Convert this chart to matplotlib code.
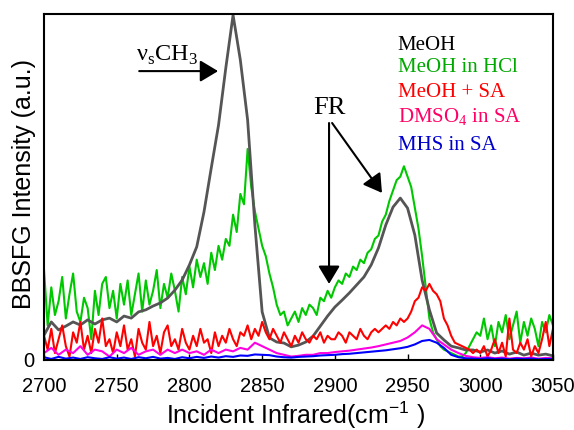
import matplotlib
matplotlib.use("Agg")
import matplotlib.pyplot as plt
import numpy as np

# ---- data (intensity in arbitrary units, 0-100) ----
# gray, magenta and blue at 5 cm-1 steps, the noisy green and red at 2.5 cm-1
wn_5 = np.arange(2700, 3050.1, 5.0)
wn_25 = np.arange(2700, 3050.1, 2.5)

meoh = [7.2, 11.0, 8.7, 9.8, 11.0, 10.1, 11.6, 10.4, 11.6, 12.1,
        11.0, 12.7, 12.1, 13.9, 14.5, 15.6, 16.5, 17.9, 20.2, 23.1,
        27.5, 32.7, 42.8, 55.5, 67.9, 84.4, 99.7, 86.7, 69.4, 39.0,
        13.9, 6.4, 5.2, 4.9, 3.8, 4.3, 5.2, 6.9, 9.8, 12.7,
        15.3, 17.3, 19.4, 21.7, 24.0, 27.5, 32.4, 39.0, 44.2, 46.8,
        43.9, 36.1, 23.1, 14.5, 7.8, 5.8, 4.0, 3.5, 2.9, 2.9,
        2.3, 2.9, 2.0, 2.6, 1.7, 2.3, 1.4, 2.0, 1.4, 1.7,
        1.2]

meoh_hcl = [26, 10, 21, 13, 17, 24, 12, 19, 25, 14, 11, 18, 15, 6, 20, 13, 22, 24, 15, 20,
            12, 22, 16, 23, 13, 19, 25, 14, 23, 16, 20, 26, 15, 22, 18, 25, 20, 14, 24, 19,
            27, 21, 29, 24, 28, 22, 31, 26, 33, 29, 35, 33, 42, 37, 48, 45, 61, 50, 43, 38,
            33, 30, 25, 21, 16, 13, 14, 10, 12, 14, 11, 15, 13, 16, 15, 13, 18, 17, 20, 18,
            21, 23, 22, 25, 24, 27, 26, 29, 28, 31, 32, 35, 36, 40, 42, 46, 49, 52, 53, 56,
            53, 50, 44, 38, 30, 21, 12, 8, 6, 4, 3, 2.5, 2, 1.5, 1, 1, 2, 4, 6, 8,
            7, 12, 6, 10, 4, 11, 8, 13, 6, 10, 14, 5, 11, 7, 12, 9, 4, 11, 8, 13,
            10]

meoh_sa = [7, 3, 9, 2, 6, 10, 4, 1, 8, 5, 11, 3, 7, 2, 9, 5, 12, 4, 6, 2,
           8, 4, 10, 3, 6, 1, 9, 5, 3, 11, 4, 7, 2, 8, 10, 4, 6, 3, 9, 5,
           3, 7, 4, 9, 5, 6, 2, 8, 4, 7, 5, 9, 6, 4, 8, 7, 10, 6, 9, 7,
           11, 8, 6, 9, 7, 5, 8, 6, 4, 7, 5, 8, 6, 5, 7, 6, 8, 5, 7, 6,
           6, 8, 7, 5, 8, 7, 6, 9, 7, 6, 8, 9, 8, 9, 10, 9, 11, 10, 12, 11,
           12, 14, 17, 18, 21, 20, 22, 20, 19, 17, 12, 10, 7, 5, 4.5, 4, 3.5, 3, 2, 3,
           2, 4, 1, 3, 6, 2, 5, 1, 12, 3, 2, 5, 3, 6, 1, 4, 2, 6, 11, 4,
           9]

dmso4_sa = [2, 3.5, 1.5, 3, 2, 4, 1.5, 3, 2.5, 1,
            3, 2, 3.5, 1.5, 2.5, 3, 1.5, 3, 2, 3,
            2, 2.5, 1.5, 3, 2, 3, 2.5, 3.5, 3, 5,
            4, 3, 2, 1.5, 1, 1.2, 1.5, 1.5, 2, 2,
            2.3, 2.5, 2.7, 3, 3.3, 3.6, 4, 4.5, 5, 5.5,
            6.5, 8, 10, 9, 6, 4.5, 3, 2, 1.2, 0.8,
            0.6, 0.8, 0.5, 0.7, 0.4, 0.6, 0.5, 0.7, 0.4, 0.6,
            0.5]

mhs_sa = [0.8, 0.3, 0.9, 0.4, 0.7, 0.3, 0.8, 0.5, 0.3, 0.8,
          0.4, 0.7, 0.3, 0.8, 0.5, 0.9, 0.4, 0.6, 0.3, 0.8,
          0.5, 0.9, 0.6, 1.0, 0.7, 1.1, 0.9, 1.3, 1.2, 1.6,
          1.5, 1.4, 1.0, 0.8, 0.7, 0.9, 1.0, 1.1, 1.3, 1.4,
          1.5, 1.7, 1.8, 2.0, 2.2, 2.4, 2.6, 2.8, 3.1, 3.4,
          3.8, 4.5, 5.5, 5.8, 5.0, 3.5, 1.5, 0.8, 0.5, 0.4,
          0.3, 0.5, 0.3, 0.4, 0.2, 0.4, 0.3, 0.4, 0.2, 0.3,
          0.3]

labels = ["MeOH", "MeOH in HCl", "MeOH + SA",
          "DMSO$_\\mathregular{4}$ in SA", "MHS in SA"]
line_colors = ["#555555", "#00c800", "#ff0000", "#ff00e0", "#0000ff"]
text_colors = ["#000000", "#00a800", "#ff0000", "#ff0066", "#0000cc"]
xticks = [2700, 2750, 2800, 2850, 2900, 2950, 3000, 3050]

plt.rcParams['font.family'] = ['Liberation Sans', 'DejaVu Sans']

fig = plt.figure(figsize=(5.74, 4.30), dpi=100)
ax = fig.add_axes([0.0767, 0.1628, 0.8867, 0.8046])

series = [(wn_5, meoh), (wn_25, meoh_hcl), (wn_25, meoh_sa),
          (wn_5, dmso4_sa), (wn_5, mhs_sa)]
zs = [2.1, 2.0, 2.2, 2.3, 2.4]
lws = [2.0, 1.5, 1.5, 1.5, 1.5]
for (x, y), c, z, w in zip(series, line_colors, zs, lws):
    ax.plot(x, y, color=c, lw=w, zorder=z)

ax.set_xlim(2700, 3050)
ax.set_ylim(0, 100)
ax.set_xticks(xticks)
ax.set_yticks([0])
ax.tick_params(axis='x', direction='in', length=4, width=1, labelsize=14.5, pad=12)
ax.tick_params(axis='y', length=0, labelsize=14.5, pad=7)
for s in ax.spines.values():
    s.set_linewidth(1.5)

# axis titles placed where the reference has them
fig.text(296 / 574, 1 - 415 / 430, "Incident Infrared(cm$^{\\mathregular{-1}}$ )",
         fontsize=18, ha='center', va='center')
fig.text(24 / 574, 1 - 184 / 430, "BBSFG Intensity (a.u.)", fontsize=18,
         rotation=90, ha='center', va='center')

# legend as coloured text
ys = [0.910, 0.844, 0.772, 0.702, 0.621]
for lab, c, yy in zip(labels, text_colors, ys):
    ax.text(0.695, yy, lab, transform=ax.transAxes, color=c, fontsize=15,
            family='Liberation Serif', va='center', ha='left')

# peak annotations
ax.text(0.242, 0.88, "\u03bd$_\\mathregular{s}$CH$_\\mathregular{3}$",
        transform=ax.transAxes, fontsize=17.5, family='Liberation Serif',
        ha='center', va='center')
ax.text(0.560, 0.728, "FR", transform=ax.transAxes, fontsize=19,
        family='Liberation Serif', ha='center', va='center')

arr = dict(arrowstyle='-|>,head_length=0.55,head_width=0.33', color='k', lw=1.5,
           shrinkA=0, shrinkB=0, mutation_scale=20)
ax.annotate("", xy=(0.342, 0.835), xytext=(0.187, 0.835),
            xycoords='axes fraction', textcoords='axes fraction', arrowprops=arr)
ax.annotate("", xy=(0.560, 0.220), xytext=(0.560, 0.685),
            xycoords='axes fraction', textcoords='axes fraction', arrowprops=arr)
ax.annotate("", xy=(0.664, 0.483), xytext=(0.566, 0.685),
            xycoords='axes fraction', textcoords='axes fraction', arrowprops=arr)

fig.savefig("out.png", dpi=100)
